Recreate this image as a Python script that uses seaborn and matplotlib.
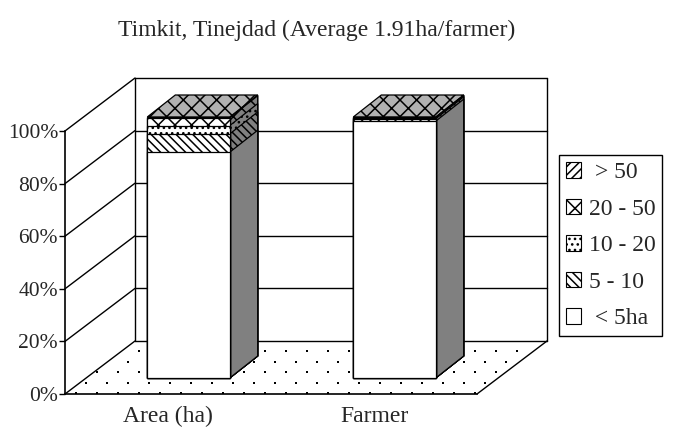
import matplotlib
matplotlib.use("Agg")
import matplotlib.pyplot as plt
from matplotlib.transforms import Affine2D, IdentityTransform
from matplotlib.patches import Polygon
import numpy as np
import seaborn as sns

categories = ["Area (ha)", "Farmer"]
size_labels = ["< 5ha", "5 - 10", "10 - 20", "20 - 50", "> 50"]
under_5 = [86.5, 98.4]
from_5_to_10 = [7.0, 0.9]
from_10_to_20 = [3.2, 0.4]
from_20_to_50 = [3.0, 0.2]
over_50 = [0.3, 0.1]
y_ticks = [0, 20, 40, 60, 80, 100]
title = "Timkit, Tinejdad (Average 1.91ha/farmer)"

hatches = ["", "\\\\\\\\", "...", "xx", "////"]
SIDE = "#808080"
TOP = "#b2b2b2"
W, H = 675, 437
FONT = 17

sns.set_style("white")
plt.rcParams["font.family"] = ["Liberation Serif", "DejaVu Serif"]
plt.rcParams["hatch.linewidth"] = 1.1

fig = plt.figure(figsize=(W / 100, H / 100), dpi=100)
ax = fig.add_axes([65 / W, (H - 394) / H, 412 / W, 263 / H])
ax.set_xlim(-0.5, 1.5)
ax.set_ylim(0, 100)

# back wall and side wall are the front plane shifted in depth
back = ax.transData + Affine2D().translate(70, 53)
for t in y_ticks:
    ax.plot([-0.5, 1.5], [t, t], color="black", lw=1, transform=back, clip_on=False, zorder=1)
    x0, y0 = ax.transData.transform((-0.5, t))
    ax.plot([x0, x0 + 70], [y0, y0 + 53], color="black", lw=1,
            transform=IdentityTransform(), clip_on=False, zorder=1)
ax.plot([1.5, 1.5], [0, 100], color="black", lw=1, transform=back, clip_on=False, zorder=1)
ax.plot([-0.5, -0.5], [0, 100], color="black", lw=1, transform=back, clip_on=False, zorder=1)
x1, y1 = ax.transData.transform((1.5, 0))
ax.plot([x1, x1 + 70], [y1, y1 + 53], color="black", lw=1,
        transform=IdentityTransform(), clip_on=False, zorder=1)

# dotted floor
for i, row_y in enumerate(np.arange(393, 341, -10.4)):
    start = 86 if i % 2 else 76
    xs = np.arange(start, 560, 21)
    xs = xs[(xs > 66 + (394 - row_y) * 70 / 53) & (xs < 477 + (394 - row_y) * 70 / 53)]
    ax.scatter(xs, [H - row_y] * len(xs), s=3, marker="s", color="black", linewidths=0,
               transform=IdentityTransform(), clip_on=False, zorder=1)

# stacked bars, tallest cumulative first so lower segments sit on top
series = [under_5, from_5_to_10, from_10_to_20, from_20_to_50, over_50]
cum = np.cumsum(np.array(series), axis=0)
bar_tf = Affine2D().scale(1, 261 / 263) + ax.transData + Affine2D().translate(20.5, 16)
for i in range(4, -1, -1):
    sns.barplot(x=categories, y=cum[i], color="white", saturation=1, width=0.4,
                edgecolor="black", linewidth=0.9, hatch=hatches[i], ax=ax, zorder=3)

depth = np.array([28, 22])
for level, cont in zip(range(4, -1, -1), ax.containers):
    for rect in cont:
        rect.set_transform(bar_tf)
        rect.set_clip_on(False)
        (xa, ya), (xb, yb) = bar_tf.transform(
            [(rect.get_x(), rect.get_y()), (rect.get_x() + rect.get_width(), rect.get_y() + rect.get_height())]
        )
        side = Polygon([(xb, ya), (xb, yb), (xb + depth[0], yb + depth[1]), (xb + depth[0], ya + depth[1])],
                       closed=True, facecolor=SIDE, edgecolor="black", lw=0.9, hatch=hatches[level],
                       transform=IdentityTransform(), clip_on=False, zorder=2.5)
        ax.add_patch(side)
        if level == 4:
            top = Polygon([(xa, yb), (xb, yb), (xb + depth[0], yb + depth[1]), (xa + depth[0], yb + depth[1])],
                          closed=True, facecolor=TOP, edgecolor="black", lw=0.9, hatch="xx",
                          transform=IdentityTransform(), clip_on=False, zorder=2.5)
            ax.add_patch(top)

for s in ["top", "right"]:
    ax.spines[s].set_visible(False)
for s in ["left", "bottom"]:
    ax.spines[s].set_linewidth(1.2)
    ax.spines[s].set_color("black")
ax.set_yticks(y_ticks, [f"{t}%" for t in y_ticks])
ax.tick_params(axis="y", left=True, length=4, width=1, pad=1, labelsize=15.5, color="black")
ax.tick_params(axis="x", bottom=False, pad=5, labelsize=FONT)
ax.set_xlabel("")
ax.set_ylabel("")
ax.patch.set_alpha(0)

fig.text(317 / W, (H - 30) / H, title, ha="center", va="center", fontsize=FONT)

handles = [cont[0] for cont in ax.containers]
labels = [" " + size_labels[4], size_labels[3], size_labels[2], size_labels[1], " " + size_labels[0]]
leg = fig.legend(handles, labels, loc="upper left", bbox_to_anchor=(559 / W, (H - 155) / H),
                 fontsize=FONT, frameon=True, fancybox=False, framealpha=1, edgecolor="black",
                 handlelength=0.65, handleheight=0.65, handletextpad=0.3, labelspacing=0.65,
                 borderpad=0.3, borderaxespad=0)
leg.get_frame().set_linewidth(1)
for h in leg.legend_handles:
    h.set_linewidth(0.8)

fig.savefig("out.png", dpi=100)
